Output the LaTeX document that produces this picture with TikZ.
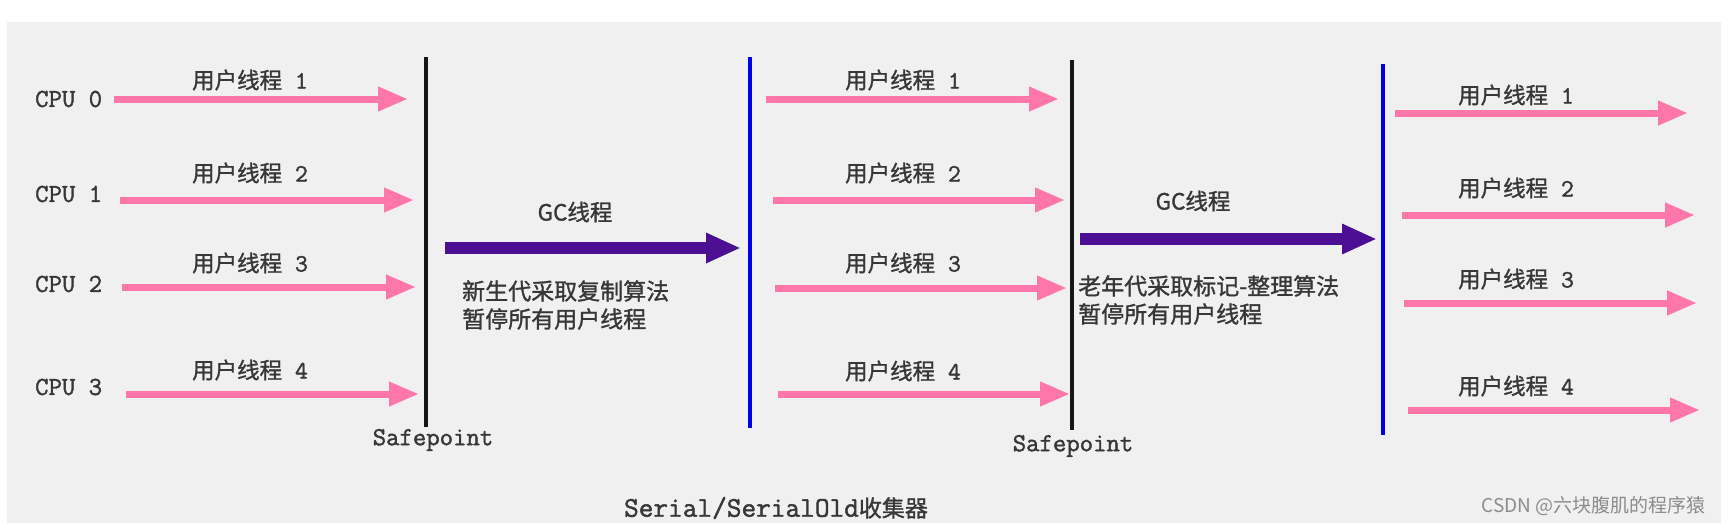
\documentclass[tikz,border=0pt]{standalone}
\usepackage{fontspec}
\usetikzlibrary{arrows.meta}
\newfontfamily\cjk{Noto Sans CJK SC}[FakeBold=1.2]
\newfontfamily\cjkwm{Noto Sans CJK SC}
\newfontfamily\mono{Latin Modern Mono}[FakeBold=1.5]
\definecolor{bggray}{RGB}{240,240,240}
\definecolor{upink}{RGB}{255,118,170}
\definecolor{gcpurple}{RGB}{76,14,146}
\definecolor{spblue}{RGB}{0,0,235}
\definecolor{spblack}{RGB}{22,22,22}
\definecolor{txtgray}{RGB}{55,55,55}
\definecolor{wmgray}{RGB}{140,140,140}
\tikzset{
  userarrow/.style={draw=upink, line width=7pt, -{Triangle[length=30pt,width=23pt]}, fill=upink},
  gcarrow/.style={draw=gcpurple, line width=12pt, -{Triangle[length=35pt,width=28pt]}, fill=gcpurple},
  sfline/.style={draw=spblack, line width=4pt},
  bluline/.style={draw=spblue, line width=4.5pt},
  cpulbl/.style={font=\mono\fontsize{26}{28}\selectfont, text=txtgray, inner sep=0pt, anchor=west},
  thrlbl/.style={font=\cjk\fontsize{22.5}{26}\selectfont, text=txtgray, inner sep=0pt},
  desc/.style={font=\cjk\fontsize{23}{28}\selectfont, text=txtgray, inner sep=0pt, align=left, anchor=west},
}
\newcommand{\thr}[1]{用户线程{\mono\fontsize{25}{26}\selectfont\ #1}}
\begin{document}
\begin{tikzpicture}[x=1pt,y=-1pt]
\useasboundingbox (0,0) rectangle (1721,523);
\fill[white] (0,0) rectangle (1721,523);
\fill[bggray] (7,22) rectangle (1721,523);

% CPU labels
\node[cpulbl] (cpu0) at (35,99) {CPU 0};
\node[cpulbl] (cpu1) at (35,194) {CPU 1};
\node[cpulbl] (cpu2) at (35,284) {CPU 2};
\node[cpulbl] (cpu3) at (35,387) {CPU 3};

% column 1 arrows
\coordinate (a1s) at (114,99);  \coordinate (a1e) at (408,99);
\coordinate (a2s) at (120,200); \coordinate (a2e) at (414,200);
\coordinate (a3s) at (122,287); \coordinate (a3e) at (416,287);
\coordinate (a4s) at (126,394); \coordinate (a4e) at (419,394);
\draw[userarrow] (a1s) -- (a1e);
\draw[userarrow] (a2s) -- (a2e);
\draw[userarrow] (a3s) -- (a3e);
\draw[userarrow] (a4s) -- (a4e);
\node[thrlbl] (t11) at (250,80) {\thr{1}};
\node[thrlbl] (t12) at (250,173) {\thr{2}};
\node[thrlbl] (t13) at (250,263) {\thr{3}};
\node[thrlbl] (t14) at (250,370) {\thr{4}};

% safepoint 1
\coordinate (s1t) at (426,57); \coordinate (s1b) at (426,427);
\draw[sfline] (s1t) -- (s1b);
\node[cpulbl, anchor=center] (sp1) at (433,440) {Safepoint};

% GC 1
\coordinate (g1s) at (445,248); \coordinate (g1e) at (741,248);
\draw[gcarrow] (g1s) -- (g1e);
\node[thrlbl] (gc1) at (575,212) {GC线程};
\node[desc] (d1) at (462,305) {新生代采取复制算法\\暂停所有用户线程};

% blue line 1
\coordinate (b1t) at (750,57); \coordinate (b1b) at (750,428);
\draw[bluline] (b1t) -- (b1b);

% column 2 arrows
\coordinate (c1s) at (766,99);  \coordinate (c1e) at (1059,99);
\coordinate (c2s) at (773,200); \coordinate (c2e) at (1065,200);
\coordinate (c3s) at (775,288); \coordinate (c3e) at (1067,288);
\coordinate (c4s) at (778,394); \coordinate (c4e) at (1070,394);
\draw[userarrow] (c1s) -- (c1e);
\draw[userarrow] (c2s) -- (c2e);
\draw[userarrow] (c3s) -- (c3e);
\draw[userarrow] (c4s) -- (c4e);
\node[thrlbl] (t21) at (903,80) {\thr{1}};
\node[thrlbl] (t22) at (903,173) {\thr{2}};
\node[thrlbl] (t23) at (903,263) {\thr{3}};
\node[thrlbl] (t24) at (903,371) {\thr{4}};

% safepoint 2
\coordinate (s2t) at (1072,60); \coordinate (s2b) at (1072,430);
\draw[sfline] (s2t) -- (s2b);
\node[cpulbl, anchor=center] (sp2) at (1073,446) {Safepoint};

% GC 2
\coordinate (g2s) at (1080,239); \coordinate (g2e) at (1377,239);
\draw[gcarrow] (g2s) -- (g2e);
\node[thrlbl] (gc2) at (1193,201) {GC线程};
\node[desc] (d2) at (1078,300) {老年代采取标记-整理算法\\暂停所有用户线程};

% blue line 2
\coordinate (b2t) at (1383,64); \coordinate (b2b) at (1383,435);
\draw[bluline] (b2t) -- (b2b);

% column 3 arrows
\coordinate (e1s) at (1395,113); \coordinate (e1e) at (1688,113);
\coordinate (e2s) at (1402,215); \coordinate (e2e) at (1695,215);
\coordinate (e3s) at (1404,303); \coordinate (e3e) at (1697,303);
\coordinate (e4s) at (1408,410); \coordinate (e4e) at (1700,410);
\draw[userarrow] (e1s) -- (e1e);
\draw[userarrow] (e2s) -- (e2e);
\draw[userarrow] (e3s) -- (e3e);
\draw[userarrow] (e4s) -- (e4e);
\node[thrlbl] (t31) at (1516,95) {\thr{1}};
\node[thrlbl] (t32) at (1516,188) {\thr{2}};
\node[thrlbl] (t33) at (1516,279) {\thr{3}};
\node[thrlbl] (t34) at (1516,386) {\thr{4}};

% title
\node[inner sep=0pt, text=txtgray] (title) at (776,508) {{\mono\fontsize{28.5}{30}\selectfont Serial/SerialOld}{\cjk\fontsize{23}{28}\selectfont 收集器}};

% watermark
\node[inner sep=0pt, anchor=east, text=wmgray, font=\cjkwm\fontsize{19}{22}\selectfont] (wm) at (1706,506) {CSDN @六块腹肌的程序猿};
\end{tikzpicture}
\end{document}
